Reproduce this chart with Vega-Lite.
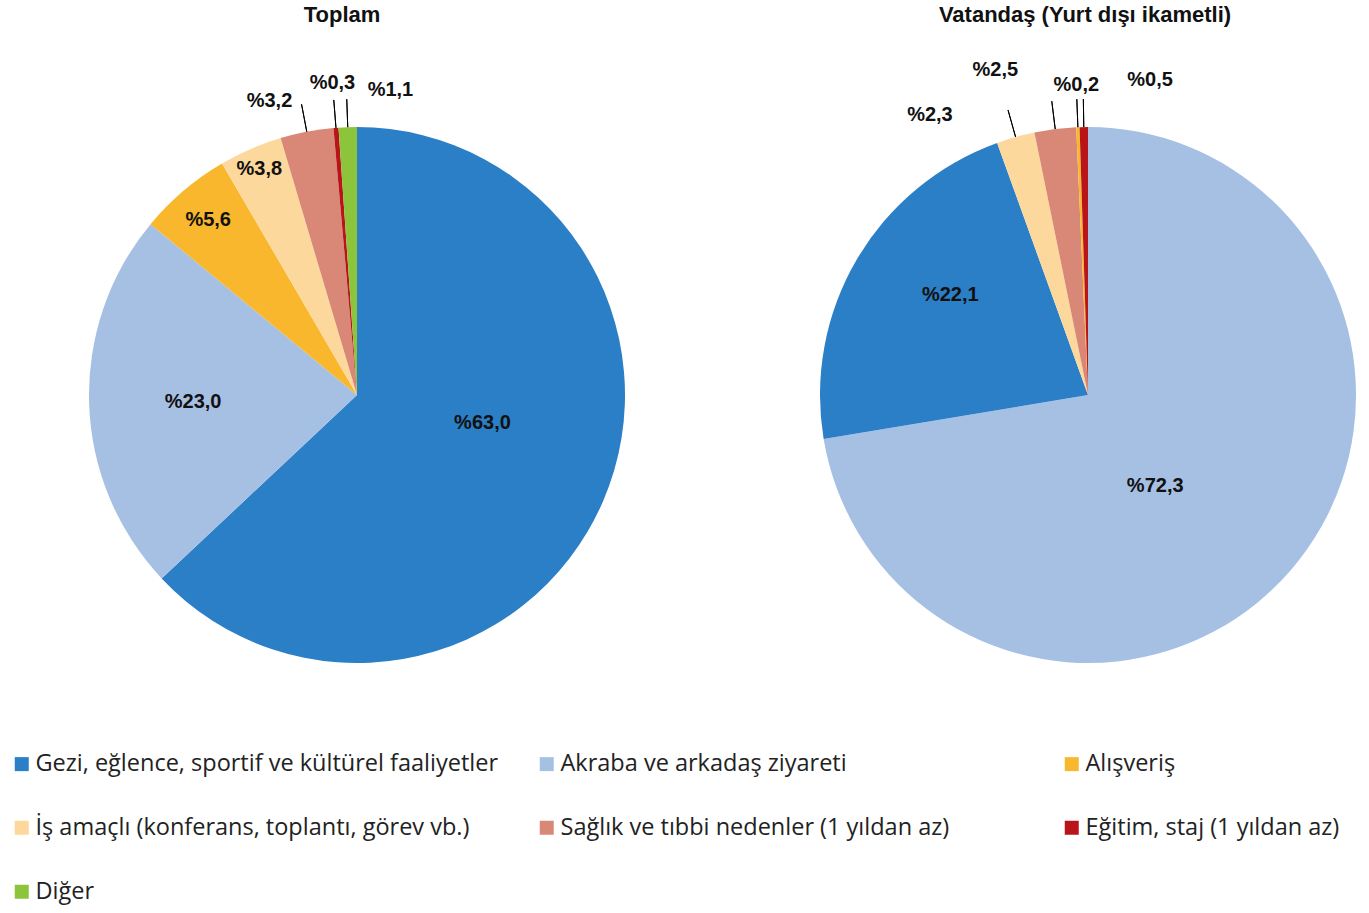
{
  "$schema": "https://vega.github.io/schema/vega-lite/v6.json",
  "background": "white",
  "padding": {"left": 10, "top": 4, "right": 0, "bottom": 6},
  "bounds": "flush",
  "data": {
    "values": [
      {"pie": "Toplam", "k": "Gezi, eğlence, sportif ve kültürel faaliyetler", "v": 63.0, "lab": "%63,0", "sira": 1},
      {"pie": "Toplam", "k": "Akraba ve arkadaş ziyareti", "v": 23.0, "lab": "%23,0", "sira": 2},
      {"pie": "Toplam", "k": "Alışveriş", "v": 5.6, "lab": "%5,6", "sira": 3},
      {"pie": "Toplam", "k": "İş amaçlı (konferans, toplantı, görev vb.)", "v": 3.8, "lab": "%3,8", "sira": 4},
      {"pie": "Toplam", "k": "Sağlık ve tıbbi nedenler (1 yıldan az)", "v": 3.2, "lab": "%3,2", "sira": 5},
      {"pie": "Toplam", "k": "Eğitim, staj (1 yıldan az)", "v": 0.3, "lab": "%0,3", "sira": 6},
      {"pie": "Toplam", "k": "Diğer", "v": 1.1, "lab": "%1,1", "sira": 7},
      {"pie": "Vatandaş (Yurt dışı ikametli)", "k": "Akraba ve arkadaş ziyareti", "v": 72.3, "lab": "%72,3", "sira": 1},
      {"pie": "Vatandaş (Yurt dışı ikametli)", "k": "Gezi, eğlence, sportif ve kültürel faaliyetler", "v": 22.1, "lab": "%22,1", "sira": 2},
      {"pie": "Vatandaş (Yurt dışı ikametli)", "k": "İş amaçlı (konferans, toplantı, görev vb.)", "v": 2.3, "lab": "%2,3", "sira": 3},
      {"pie": "Vatandaş (Yurt dışı ikametli)", "k": "Sağlık ve tıbbi nedenler (1 yıldan az)", "v": 2.5, "lab": "%2,5", "sira": 4},
      {"pie": "Vatandaş (Yurt dışı ikametli)", "k": "Alışveriş", "v": 0.2, "lab": "%0,2", "sira": 5},
      {"pie": "Vatandaş (Yurt dışı ikametli)", "k": "Eğitim, staj (1 yıldan az)", "v": 0.5, "lab": "%0,5", "sira": 6}
    ]
  },
  "spacing": 116,
  "resolve": {"scale": {"theta": "independent", "color": "shared"}},
  "hconcat": [
    {
      "width": 694,
      "height": 700,
      "title": {"text": "Toplam", "frame": "group", "font": "Liberation Sans", "fontSize": 22, "fontWeight": "bold", "color": "#111111", "offset": 18, "dx": -15},
      "transform": [{"filter": "datum.pie == 'Toplam'"}],
      "encoding": {
        "theta": {"field": "v", "type": "quantitative", "stack": true, "scale": {"nice": false}},
        "order": {"field": "sira", "type": "quantitative"},
        "detail": {"field": "k", "type": "nominal"}
      },
      "layer": [
        {
          "mark": {"type": "arc", "radius": 268, "clip": true},
          "encoding": {
            "color": {
              "field": "k", "type": "nominal",
              "scale": {
                "domain": ["Gezi, eğlence, sportif ve kültürel faaliyetler", "Akraba ve arkadaş ziyareti", "Alışveriş", "İş amaçlı (konferans, toplantı, görev vb.)", "Sağlık ve tıbbi nedenler (1 yıldan az)", "Eğitim, staj (1 yıldan az)", "Diğer"],
                "range": ["#2a7fc6", "#a6c0e4", "#f8b72c", "#fdd89c", "#d98878", "#b8141a", "#8cc43c"]
              },
              "legend": {
                "title": null, "orient": "bottom", "direction": "horizontal", "columns": 3, "gridAlign": "all",
                "columnPadding": 36, "rowPadding": 39, "offset": 7, "padding": 0,
                "symbolType": "square", "symbolSize": 196, "symbolStrokeWidth": 0, "symbolOpacity": 1,
                "labelFont": "Open Sans", "labelFontSize": 23.5, "labelColor": "#222222", "labelLimit": 800, "labelOffset": 2
              }
            }
          }
        },
        {
          "mark": {"type": "arc", "radius": 296, "radius2": 268, "padAngle": 0.3, "filled": false, "stroke": "#000000", "strokeWidth": 1, "clip": true},
          "encoding": {"strokeOpacity": {"condition": {"test": "datum.v < 3.5", "value": 1}, "value": 0}}
        },
        {
          "mark": {"type": "text", "radius": 128, "dx": 8, "dy": -23, "font": "Liberation Sans", "fontSize": 20, "fontWeight": "bold", "fill": "#111111", "clip": true},
          "encoding": {"text": {"condition": {"test": "datum.sira == 1", "field": "lab", "type": "nominal"}, "value": ""}}
        },
        {
          "mark": {"type": "text", "radius": 164, "dy": 2, "font": "Liberation Sans", "fontSize": 20, "fontWeight": "bold", "fill": "#111111", "clip": true},
          "encoding": {"text": {"condition": {"test": "datum.sira == 2", "field": "lab", "type": "nominal"}, "value": ""}}
        },
        {
          "mark": {"type": "text", "radius": 230, "font": "Liberation Sans", "fontSize": 20, "fontWeight": "bold", "fill": "#111111", "clip": true},
          "encoding": {"text": {"condition": {"test": "datum.sira == 3", "field": "lab", "type": "nominal"}, "value": ""}}
        },
        {
          "mark": {"type": "text", "radius": 246, "font": "Liberation Sans", "fontSize": 20, "fontWeight": "bold", "fill": "#111111", "clip": true},
          "encoding": {"text": {"condition": {"test": "datum.sira == 4", "field": "lab", "type": "nominal"}, "value": ""}}
        },
        {
          "mark": {"type": "text", "radius": 307, "dx": -30, "dy": 8, "font": "Liberation Sans", "fontSize": 20, "fontWeight": "bold", "fill": "#111111", "clip": true},
          "encoding": {"text": {"condition": {"test": "datum.sira == 5", "field": "lab", "type": "nominal"}, "value": ""}}
        },
        {
          "mark": {"type": "text", "radius": 313, "font": "Liberation Sans", "fontSize": 20, "fontWeight": "bold", "fill": "#111111", "clip": true},
          "encoding": {"text": {"condition": {"test": "datum.sira == 6", "field": "lab", "type": "nominal"}, "value": ""}}
        },
        {
          "mark": {"type": "text", "radius": 306, "dx": 44, "dy": 1, "font": "Liberation Sans", "fontSize": 20, "fontWeight": "bold", "fill": "#111111", "clip": true},
          "encoding": {"text": {"condition": {"test": "datum.sira == 7", "field": "lab", "type": "nominal"}, "value": ""}}
        }
      ]
    },
    {
      "width": 536,
      "height": 700,
      "title": {"text": "Vatandaş (Yurt dışı ikametli)", "frame": "group", "font": "Liberation Sans", "fontSize": 22, "fontWeight": "bold", "color": "#111111", "offset": 18, "dx": -3},
      "transform": [{"filter": "datum.pie == 'Vatandaş (Yurt dışı ikametli)'"}],
      "encoding": {
        "theta": {"field": "v", "type": "quantitative", "stack": true, "scale": {"nice": false}},
        "order": {"field": "sira", "type": "quantitative"},
        "detail": {"field": "k", "type": "nominal"}
      },
      "layer": [
        {
          "mark": {"type": "arc", "radius": 268, "clip": true},
          "encoding": {
            "color": {
              "field": "k", "type": "nominal",
              "scale": {
                "domain": ["Gezi, eğlence, sportif ve kültürel faaliyetler", "Akraba ve arkadaş ziyareti", "Alışveriş", "İş amaçlı (konferans, toplantı, görev vb.)", "Sağlık ve tıbbi nedenler (1 yıldan az)", "Eğitim, staj (1 yıldan az)", "Diğer"],
                "range": ["#2a7fc6", "#a6c0e4", "#f8b72c", "#fdd89c", "#d98878", "#b8141a", "#8cc43c"]
              }
            }
          }
        },
        {
          "mark": {"type": "arc", "radius": 296, "radius2": 268, "padAngle": 0.3, "filled": false, "stroke": "#000000", "strokeWidth": 1, "clip": true},
          "encoding": {"strokeOpacity": {"condition": {"test": "datum.v < 3.5", "value": 1}, "value": 0}}
        },
        {
          "mark": {"type": "text", "radius": 113, "dx": -19, "dy": 18, "font": "Liberation Sans", "fontSize": 20, "fontWeight": "bold", "fill": "#111111", "clip": true},
          "encoding": {"text": {"condition": {"test": "datum.sira == 1", "field": "lab", "type": "nominal"}, "value": ""}}
        },
        {
          "mark": {"type": "text", "radius": 170, "dx": 9, "dy": -14, "font": "Liberation Sans", "fontSize": 20, "fontWeight": "bold", "fill": "#111111", "clip": true},
          "encoding": {"text": {"condition": {"test": "datum.sira == 2", "field": "lab", "type": "nominal"}, "value": ""}}
        },
        {
          "mark": {"type": "text", "radius": 300, "dx": -77, "dy": 9, "font": "Liberation Sans", "fontSize": 20, "fontWeight": "bold", "fill": "#111111", "clip": true},
          "encoding": {"text": {"condition": {"test": "datum.sira == 3", "field": "lab", "type": "nominal"}, "value": ""}}
        },
        {
          "mark": {"type": "text", "radius": 300, "dx": -56, "dy": -27, "font": "Liberation Sans", "fontSize": 20, "fontWeight": "bold", "fill": "#111111", "clip": true},
          "encoding": {"text": {"condition": {"test": "datum.sira == 4", "field": "lab", "type": "nominal"}, "value": ""}}
        },
        {
          "mark": {"type": "text", "radius": 310, "font": "Liberation Sans", "fontSize": 20, "fontWeight": "bold", "fill": "#111111", "clip": true},
          "encoding": {"text": {"condition": {"test": "datum.sira == 5", "field": "lab", "type": "nominal"}, "value": ""}}
        },
        {
          "mark": {"type": "text", "radius": 315, "dx": 67, "font": "Liberation Sans", "fontSize": 20, "fontWeight": "bold", "fill": "#111111", "clip": true},
          "encoding": {"text": {"condition": {"test": "datum.sira == 6", "field": "lab", "type": "nominal"}, "value": ""}}
        }
      ]
    }
  ],
  "config": {
    "view": {"stroke": null},
    "title": {"anchor": "middle"}
  }
}
